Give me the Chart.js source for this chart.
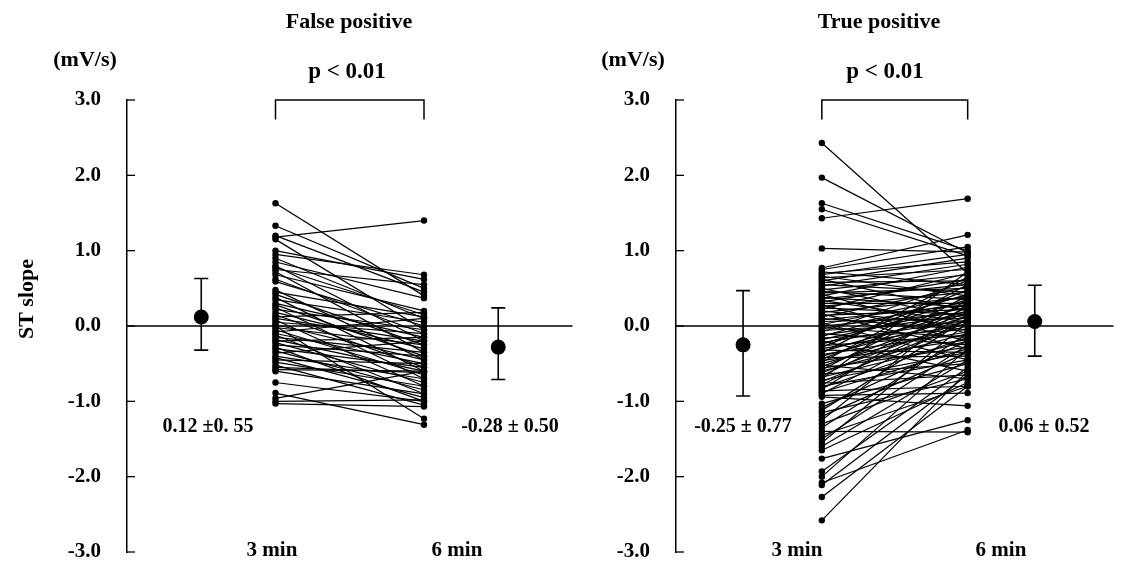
<!DOCTYPE html>
<html>
<head>
<meta charset="utf-8">
<script src="https://cdn.jsdelivr.net/npm/chart.js@4.4.1/dist/chart.umd.min.js"></script>
<style>
  html, body { margin: 0; padding: 0; background: #fff; }
  #wrap { position: relative; width: 1121px; height: 577px; overflow: hidden; background: #fff; }
  canvas { position: absolute; top: 0; }
</style>
</head>
<body>
<div id="wrap">
  <canvas id="fpChart" width="580" height="577" style="left:0"></canvas>
  <canvas id="tpChart" width="561" height="577" style="left:560px"></canvas>
</div>
<script>
const FONT = '"Liberation Serif", "Times New Roman", serif';

const yTicks = [-3, -2, -1, 0, 1, 2, 3];
const timeLabels = ['3 min', '6 min'];

// False positive: ST slope at 3 min and 6 min, one pair per patient
const fp3 = [1.63, 1.33, 1.18, 1.20, 1.15, 1.00, 0.95, 0.90, 0.85, 0.80,
             0.78, 0.75, 0.72, 0.68, 0.62, 0.59, 0.48, 0.45, 0.42, 0.38,
             0.35, 0.30, 0.28, 0.25, 0.22, 0.18, 0.15, 0.12, 0.10, 0.08,
             0.05, 0.02, 0.00, -0.02, -0.05, -0.08, -0.10, -0.12, -0.15, -0.18,
             -0.20, -0.22, -0.25, -0.28, -0.30, -0.33, -0.36, -0.40, -0.42, -0.45,
             -0.48, -0.52, -0.55, -0.58, -0.60, -0.75, -0.89, -0.96, -1.00, -1.03];
const fp6 = [0.40, 0.50, 1.40, 0.45, -0.05, 0.62, 0.68, 0.10, 0.37, -0.20,
             0.15, 0.55, -0.35, 0.20, -0.10, 0.00, -0.45, 0.12, -0.25, -0.60,
             0.05, -0.15, -0.40, -0.70, -0.05, -0.30, -0.55, 0.18, -0.20, -0.80,
             -0.10, -0.45, -1.23, -0.25, -0.65, 0.10, -0.50, -0.90, -0.35, -0.60,
             -0.15, -0.75, -0.40, -1.00, -0.55, -0.85, -0.20, -0.70, -0.95, -0.50,
             -0.80, -1.05, -0.62, -0.60, -0.90, -1.00, -1.31, -0.60, -0.98, -1.07];
const fpMean = [0.12, -0.28];
const fpHi = [0.63, 0.24];
const fpLo = [-0.32, -0.71];
const fpStats = ['0.12 ±0. 55', '-0.28 ± 0.50'];

// True positive
const tp3 = [2.43, 1.97, 1.63, 1.55, 1.43, 1.03, 0.77, 0.75, 0.72, 0.70,
             0.68, 0.66, 0.64, 0.62, 0.60, 0.58, 0.55, 0.53, 0.50, 0.48,
             0.46, 0.44, 0.42, 0.40, 0.38, 0.36, 0.34, 0.32, 0.30, 0.28,
             0.26, 0.24, 0.22, 0.20, 0.18, 0.16, 0.14, 0.12, 0.10, 0.08,
             0.06, 0.04, 0.02, 0.00, -0.02, -0.04, -0.06, -0.08, -0.10, -0.12,
             -0.14, -0.16, -0.18, -0.20, -0.22, -0.24, -0.26, -0.28, -0.30, -0.32,
             -0.34, -0.36, -0.38, -0.40, -0.42, -0.44, -0.46, -0.48, -0.50, -0.52,
             -0.54, -0.56, -0.58, -0.60, -0.62, -0.64, -0.66, -0.68, -0.70, -0.72,
             -0.74, -0.76, -0.78, -0.80, -0.82, -0.84, -0.86, -0.88, -0.90, -0.92,
             -0.94, -1.03, -1.08, -1.12, -1.15, -1.20, -1.25, -1.30, -1.35, -1.40,
             -1.45, -1.50, -1.55, -1.60, -1.65, -1.76, -1.93, -2.00, -2.08, -2.11,
             -2.27, -2.58];
const tp6 = [0.70, 0.97, 1.00, 0.93, 1.69, 0.98, 1.21, 1.05, 0.55, 0.85,
             0.95, 0.40, 0.75, 0.20, 0.90, 0.60, 0.45, 0.82, 0.10, 0.68,
             0.35, 0.50, -0.10, 0.78, 0.25, 0.55, 0.05, 0.62, 0.30, -0.20,
             0.45, 0.15, 0.70, 0.00, 0.38, -0.30, 0.22, 0.52, -0.05, 0.28,
             0.10, -0.45, 0.40, 0.18, -0.15, 0.32, 0.05, 0.60, -0.25, 0.15,
             0.42, -0.05, 0.25, -0.60, 0.08, 0.35, -0.12, 0.48, 0.02, -0.35,
             0.20, 0.65, -0.08, 0.12, -0.40, 0.30, -0.18, 0.55, 0.00, -0.70,
             0.18, -0.28, 0.40, -0.10, 0.08, -0.50, 0.25, -0.20, 0.72, -0.35,
             0.05, -0.65, 0.15, -0.45, -0.15, 0.35, -0.80, -0.30, 0.10, -0.89,
             -1.06, -0.50, -0.20, 0.10, -0.70, -0.35, 0.30, -0.60, -0.10, -1.41,
             -0.80, -0.25, 0.05, -0.45, -0.75, -1.25, -0.55, -0.30, -1.38, -0.65,
             -0.80, -0.60];
const tpMean = [-0.25, 0.06];
const tpHi = [0.47, 0.54];
const tpLo = [-0.93, -0.40];
const tpStats = ['-0.25 ± 0.77', '0.06 ± 0.52'];

const colX = [2, 4];   // x slots of the 3 min / 6 min columns

const decor = {
  id: 'decor',
  beforeDatasetsDraw(chart, args, o) {
    const { ctx, chartArea: a, scales: { x, y } } = chart;
    ctx.save();
    ctx.strokeStyle = '#000';
    // zero line
    ctx.lineWidth = 1.3;
    const y0 = y.getPixelForValue(0);
    ctx.beginPath(); ctx.moveTo(a.left, y0); ctx.lineTo(a.right, y0); ctx.stroke();
    // inward ticks
    yTicks.forEach(v => {
      const py = y.getPixelForValue(v);
      ctx.beginPath(); ctx.moveTo(a.left, py); ctx.lineTo(a.left + 8, py); ctx.stroke();
    });
    // error bars
    ctx.lineWidth = 1.6;
    o.meanX.forEach((mx, i) => {
      const px = x.getPixelForValue(mx);
      const hi = y.getPixelForValue(o.hi[i]), lo = y.getPixelForValue(o.lo[i]);
      ctx.beginPath();
      ctx.moveTo(px, hi); ctx.lineTo(px, lo);
      ctx.moveTo(px - 7, hi); ctx.lineTo(px + 7, hi);
      ctx.moveTo(px - 7, lo); ctx.lineTo(px + 7, lo);
      ctx.stroke();
    });
    // significance bracket
    const bx1 = x.getPixelForValue(colX[0]), bx2 = x.getPixelForValue(colX[1]);
    const bTop = y.getPixelForValue(3), bLeg = y.getPixelForValue(2.74);
    ctx.lineWidth = 1.5;
    ctx.beginPath();
    ctx.moveTo(bx1, bLeg); ctx.lineTo(bx1, bTop); ctx.lineTo(bx2, bTop); ctx.lineTo(bx2, bLeg);
    ctx.stroke();
    ctx.restore();
  },
  afterDraw(chart, args, o) {
    const { ctx } = chart;
    ctx.save();
    ctx.fillStyle = '#000';
    ctx.textAlign = 'center';
    ctx.textBaseline = 'middle';
    ctx.font = 'bold 22px ' + FONT;
    ctx.fillText(o.title, o.titleX, 22);
    ctx.fillText('(mV/s)', o.unitX, 60);
    ctx.font = 'bold 23px ' + FONT;
    ctx.fillText('p < 0.01', o.pX, 72);
    ctx.font = 'bold 20px ' + FONT;
    ctx.fillText(o.stats[0], o.statX[0], 427);
    ctx.fillText(o.stats[1], o.statX[1], 427);
    ctx.font = 'bold 21px ' + FONT;
    ctx.fillText(timeLabels[0], o.minX[0], 551);
    ctx.fillText(timeLabels[1], o.minX[1], 551);
    if (o.yTitle) {
      ctx.translate(27, 299);
      ctx.rotate(-Math.PI / 2);
      ctx.font = 'bold 22px ' + FONT;
      ctx.fillText(o.yTitle, 0, 0);
    }
    ctx.restore();
  }
};

function pairSets(a, b) {
  return a.map((v, i) => ({
    data: [{ x: colX[0], y: v }, { x: colX[1], y: b[i] }],
    showLine: true,
    borderColor: '#000',
    borderWidth: 1.2,
    pointRadius: 3.2,
    pointBackgroundColor: '#000',
    pointBorderWidth: 0
  }));
}

function meanSet(meanX, vals) {
  return {
    data: vals.map((v, i) => ({ x: meanX[i], y: v })),
    showLine: false,
    pointRadius: 7.5,
    pointBackgroundColor: '#000',
    pointBorderColor: '#000',
    pointBorderWidth: 0
  };
}

function makeChart(id, cfg) {
  return new Chart(document.getElementById(id), {
    type: 'scatter',
    data: { datasets: [...pairSets(cfg.v3, cfg.v6), meanSet(cfg.decor.meanX, cfg.mean)] },
    options: {
      responsive: false,
      animation: false,
      devicePixelRatio: 1,
      events: [],
      layout: { padding: { top: 100, bottom: 25, left: 0, right: cfg.padRight } },
      plugins: {
        legend: { display: false },
        tooltip: { enabled: false },
        decor: cfg.decor
      },
      scales: {
        x: { type: 'linear', min: 0, max: 6, display: false },
        y: {
          min: -3, max: 3,
          afterFit: s => {
            s.width = cfg.axisW;
            // tick padding is meant horizontally only
            s.paddingTop = 12;
            s.paddingBottom = 12;
          },
          ticks: {
            stepSize: 1,
            callback: v => v.toFixed(1),
            color: '#000',
            padding: cfg.tickPad,
            font: { family: FONT, size: 21, weight: 'bold' }
          },
          grid: { display: false, drawTicks: false },
          border: { display: true, color: '#000', width: 1.5 }
        }
      }
    },
    plugins: [decor]
  });
}

makeChart('fpChart', {
  v3: fp3, v6: fp6, mean: fpMean, axisW: 127, padRight: 3, tickPad: 26,
  decor: {
    meanX: [1, 5], hi: fpHi, lo: fpLo, stats: fpStats,
    title: 'False positive', titleX: 349, unitX: 85, pX: 347,
    statX: [208, 510], minX: [272, 457], yTitle: 'ST slope'
  }
});

makeChart('tpChart', {
  v3: tp3, v6: tp6, mean: tpMean, axisW: 116, padRight: 0, tickPad: 26,
  decor: {
    meanX: [0.92, 4.92], hi: tpHi, lo: tpLo, stats: tpStats,
    title: 'True positive', titleX: 319, unitX: 73, pX: 325,
    statX: [183, 484], minX: [237, 441], yTitle: null
  }
});
</script>
</body>
</html>
